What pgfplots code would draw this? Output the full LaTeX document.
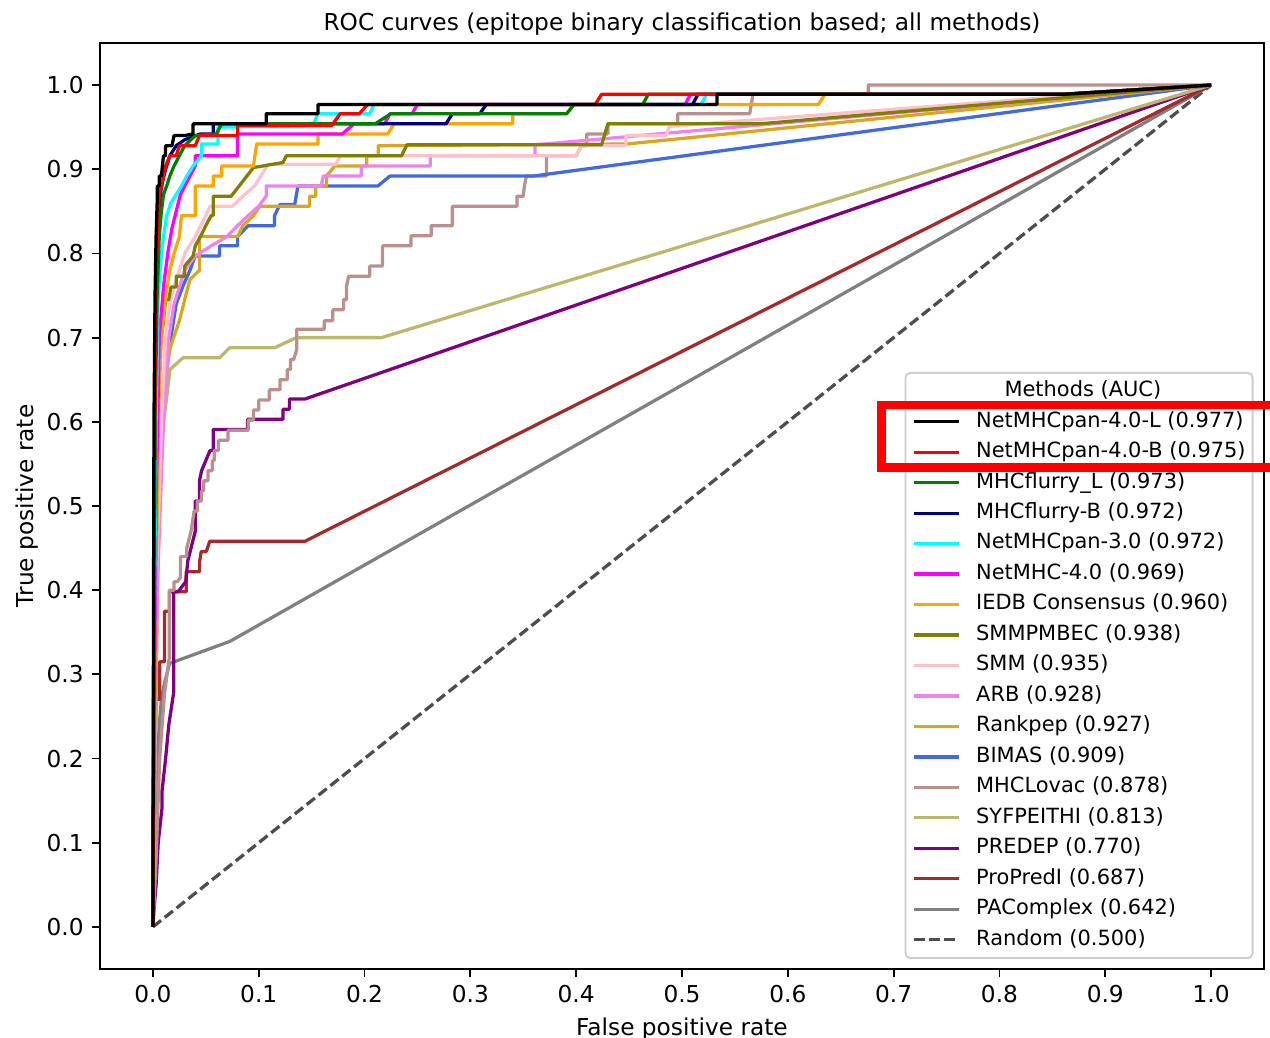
\documentclass[border=0pt]{standalone}
\usepackage{pgfplots}
\pgfplotsset{compat=1.18}
\usepackage{fontspec}
\setmainfont{DejaVu Sans}
\definecolor{cgreen}{HTML}{008000}
\definecolor{cnavy}{HTML}{000080}
\definecolor{ccyan}{HTML}{00FFFF}
\definecolor{cmagenta}{HTML}{FF00FF}
\definecolor{corange}{HTML}{FFA500}
\definecolor{colive}{HTML}{808000}
\definecolor{cpink}{HTML}{FFC0CB}
\definecolor{cviolet}{HTML}{EE82EE}
\definecolor{cgoldenrod}{HTML}{DAA520}
\definecolor{croyal}{HTML}{4169E1}
\definecolor{crosy}{HTML}{BC8F8F}
\definecolor{ckhaki}{HTML}{BDB76B}
\definecolor{cpurple}{HTML}{800080}
\definecolor{cbrown}{HTML}{A52A2A}
\definecolor{cgray}{HTML}{808080}
\definecolor{cdash}{HTML}{4D4D4D}
\begin{document}
\begin{tikzpicture}
\begin{axis}[
  scale only axis, width=500.52pt, height=398.18pt,
  xmin=-0.05, xmax=1.05, ymin=-0.05, ymax=1.05,
  xtick={0,0.1,0.2,0.3,0.4,0.5,0.6,0.7,0.8,0.9,1.0},
  ytick={0,0.1,0.2,0.3,0.4,0.5,0.6,0.7,0.8,0.9,1.0},
  xticklabel={\pgfmathprintnumber[fixed,fixed zerofill,precision=1,assume math mode=true]{\tick}},
  yticklabel={\pgfmathprintnumber[fixed,fixed zerofill,precision=1,assume math mode=true]{\tick}},
  tick pos=left, tick align=outside, major tick length=3.5pt,
  tick style={black, line width=0.8pt},
  axis line style={line width=0.8pt, black},
  every tick label/.append style={font=\fontsize{10}{12}\selectfont},
  title={ROC curves (epitope binary classification based; all methods)},
  every axis title/.style={font=\fontsize{10}{12}\selectfont, at={(axis description cs:0.5,1.0130)}, anchor=base},
  xlabel={False positive rate},
  xlabel style={font=\fontsize{10}{12}\selectfont, at={(axis description cs:0.5,-0.0713)}, anchor=base},
  ylabel={True positive rate},
  ylabel style={font=\fontsize{10}{12}\selectfont, at={(axis description cs:-0.057,0.5)}, anchor=base, rotate=0},
  legend style={at={(axis description cs:0.9910,0.6447)}, anchor=north east,
    draw=black!20, fill=white, rounded corners=2pt, line width=0.8pt,
    font=\fontsize{9}{11}\selectfont, inner xsep=3.0pt, inner ysep=3.4pt,
    row sep=4.1pt, column sep=6.6pt,
    nodes={inner sep=0pt, text height=6.8pt, text depth=2.2pt}},
  legend cell align=left,
  reverse legend,
  legend image code/.code={\draw[#1] (0pt,0pt) -- (19.4pt,0pt);},
  every axis plot/.append style={line width=1.4pt, line join=round},
]
% Random
\addplot[cdash, dash pattern=on 4.5pt off 2pt] coordinates {(0,0) (1,1)};
\addlegendentry{Random (0.500)}
% PAComplex
\addplot[cgray] coordinates {(0,0) (0.002,0.1) (0.004,0.19) (0.006,0.24) (0.008,0.27) (0.011,0.29) (0.0158,0.313) (0.0725,0.339) (1,1)};
\addlegendentry{PAComplex (0.642)}
% ProPredI
\addplot[cbrown] coordinates {(0,0) (0.001,0.1) (0.002,0.2) (0.003,0.27) (0.0064,0.27) (0.0064,0.315) (0.011,0.315) (0.011,0.375) (0.0157,0.375) (0.0157,0.398) (0.0315,0.398) (0.0315,0.422) (0.044,0.422) (0.0441,0.434) (0.0457,0.446) (0.0505,0.446) (0.0537,0.458) (0.1435,0.458) (1,1)};
\addlegendentry{ProPredI (0.687)}
% PREDEP
\addplot[cpurple] coordinates {(0,0) (0.001,0.02) (0.003,0.05) (0.005,0.1) (0.0085,0.14) (0.0085,0.16) (0.012,0.2) (0.015,0.24) (0.0198,0.28) (0.0198,0.398) (0.0237,0.398) (0.031,0.41) (0.033,0.435) (0.036,0.45) (0.04,0.47) (0.04,0.506) (0.044,0.506) (0.044,0.53) (0.046,0.542) (0.05,0.554) (0.054,0.566) (0.057,0.566) (0.057,0.591) (0.0895,0.591) (0.0895,0.603) (0.123,0.603) (0.123,0.615) (0.129,0.615) (0.129,0.627) (0.1435,0.627) (1,1)};
\addlegendentry{PREDEP (0.770)}
% SYFPEITHI
\addplot[ckhaki] coordinates {(0,0) (0.002,0.2) (0.004,0.4) (0.007,0.53) (0.01,0.6) (0.0127,0.626) (0.0161,0.662) (0.0284,0.676) (0.063,0.676) (0.0725,0.688) (0.115,0.688) (0.1356,0.700) (0.216,0.700) (1,1)};
\addlegendentry{SYFPEITHI (0.813)}
% MHCLovac
\addplot[crosy] coordinates {(0,0) (0.003,0.08) (0.0064,0.2) (0.011,0.278) (0.0155,0.32) (0.0155,0.40) (0.02,0.40) (0.02,0.41) (0.023,0.41) (0.026,0.415) (0.026,0.44) (0.032,0.44) (0.032,0.45) (0.036,0.47) (0.039,0.494) (0.042,0.494) (0.042,0.506) (0.046,0.506) (0.046,0.518) (0.048,0.518) (0.048,0.53) (0.052,0.53) (0.052,0.542) (0.056,0.542) (0.056,0.554) (0.058,0.554) (0.058,0.566) (0.062,0.566) (0.062,0.578) (0.071,0.578) (0.071,0.59) (0.09,0.59) (0.09,0.602) (0.095,0.602) (0.095,0.614) (0.1,0.614) (0.1,0.626) (0.11,0.626) (0.11,0.638) (0.12,0.638) (0.12,0.65) (0.127,0.65) (0.127,0.662) (0.13,0.662) (0.13,0.674) (0.133,0.674) (0.136,0.686) (0.136,0.71) (0.162,0.71) (0.162,0.72) (0.17,0.72) (0.17,0.733) (0.18,0.733) (0.18,0.745) (0.183,0.745) (0.183,0.761) (0.185,0.773) (0.205,0.773) (0.205,0.785) (0.217,0.785) (0.217,0.809) (0.244,0.809) (0.244,0.821) (0.263,0.821) (0.263,0.833) (0.283,0.833) (0.283,0.856) (0.344,0.856) (0.344,0.868) (0.35,0.868) (0.351,0.88) (0.353,0.892) (0.372,0.892) (0.372,0.916) (0.40,0.916) (0.405,0.928) (0.41,0.928) (0.41,0.942) (0.43,0.942) (0.43,0.954) (0.496,0.954) (0.496,0.966) (0.564,0.966) (0.567,0.989) (0.676,0.989) (0.676,1.0) (1,1)};
\addlegendentry{MHCLovac (0.878)}
% BIMAS
\addplot[croyal] coordinates {(0,0) (0.001,0.3) (0.003,0.45) (0.006,0.55) (0.009,0.62) (0.012,0.67) (0.017,0.7) (0.022,0.74) (0.028,0.76) (0.035,0.78) (0.04,0.797) (0.063,0.797) (0.063,0.809) (0.08,0.809) (0.08,0.82) (0.09,0.833) (0.115,0.833) (0.115,0.845) (0.12,0.858) (0.134,0.858) (0.137,0.88) (0.2125,0.88) (0.224,0.892) (0.36,0.892) (1,1)};
\addlegendentry{BIMAS (0.909)}
% Rankpep
\addplot[cgoldenrod] coordinates {(0,0) (0.002,0.2) (0.005,0.45) (0.008,0.603) (0.012,0.65) (0.016,0.686) (0.019,0.698) (0.025,0.72) (0.03,0.745) (0.035,0.769) (0.044,0.78) (0.044,0.82) (0.08,0.82) (0.085,0.833) (0.095,0.845) (0.101,0.856) (0.148,0.856) (0.148,0.868) (0.154,0.868) (0.154,0.88) (0.164,0.88) (0.164,0.892) (0.172,0.904) (0.202,0.904) (0.202,0.916) (0.213,0.916) (0.213,0.928) (0.448,0.93) (1,1)};
\addlegendentry{Rankpep (0.927)}
% ARB
\addplot[cviolet] coordinates {(0,0) (0.004,0.4) (0.01,0.6) (0.015,0.7) (0.02,0.74) (0.025,0.76) (0.03,0.78) (0.04,0.797) (0.055,0.809) (0.07,0.82) (0.08,0.833) (0.09,0.845) (0.1,0.856) (0.107,0.868) (0.107,0.88) (0.159,0.88) (0.161,0.892) (0.197,0.892) (0.197,0.904) (0.262,0.904) (0.262,0.916) (0.361,0.916) (0.361,0.929) (1,1)};
\addlegendentry{ARB (0.928)}
% SMM
\addplot[cpink] coordinates {(0,0) (0.003,0.4) (0.008,0.6) (0.012,0.7) (0.016,0.74) (0.02,0.76) (0.025,0.78) (0.03,0.8) (0.04,0.82) (0.05,0.845) (0.054,0.856) (0.075,0.856) (0.085,0.868) (0.096,0.88) (0.109,0.906) (0.173,0.906) (0.177,0.916) (0.40,0.916) (0.405,0.928) (0.447,0.928) (0.447,0.94) (0.485,0.94) (0.488,0.951) (1,1)};
\addlegendentry{SMM (0.935)}
% SMMPMBEC
\addplot[colive] coordinates {(0,0) (0.002,0.3) (0.004,0.55) (0.006,0.68) (0.01,0.72) (0.012,0.745) (0.015,0.745) (0.017,0.76) (0.022,0.76) (0.022,0.773) (0.03,0.773) (0.03,0.785) (0.038,0.797) (0.04,0.809) (0.045,0.82) (0.05,0.833) (0.055,0.845) (0.057,0.845) (0.057,0.868) (0.074,0.868) (0.095,0.902) (0.123,0.908) (0.126,0.916) (0.235,0.916) (0.24,0.929) (0.424,0.929) (0.43,0.954) (0.574,0.954) (1,1)};
\addlegendentry{SMMPMBEC (0.938)}
% IEDB Consensus
\addplot[corange] coordinates {(0,0) (0.002,0.3) (0.005,0.6) (0.008,0.7) (0.012,0.75) (0.016,0.78) (0.02,0.8) (0.025,0.82) (0.027,0.845) (0.04,0.845) (0.04,0.88) (0.057,0.88) (0.057,0.892) (0.065,0.892) (0.065,0.904) (0.095,0.904) (0.098,0.93) (0.156,0.93) (0.156,0.942) (0.222,0.942) (0.228,0.954) (0.34,0.954) (0.34,0.966) (0.391,0.966) (0.398,0.977) (0.629,0.977) (0.635,0.989) (0.86,0.989) (1,1)};
\addlegendentry{IEDB Consensus (0.960)}
% NetMHC-4.0
\addplot[cmagenta] coordinates {(0,0) (0.001,0.2) (0.003,0.5) (0.006,0.7) (0.01,0.76) (0.014,0.8) (0.018,0.83) (0.022,0.85) (0.026,0.87) (0.03,0.88) (0.035,0.892) (0.04,0.904) (0.04,0.916) (0.08,0.916) (0.08,0.942) (0.179,0.942) (0.19,0.954) (0.219,0.954) (0.224,0.966) (0.245,0.966) (0.25,0.977) (0.503,0.977) (0.508,0.989) (0.86,0.989) (1,1)};
\addlegendentry{NetMHC-4.0 (0.969)}
% NetMHCpan-3.0
\addplot[ccyan] coordinates {(0,0) (0.001,0.3) (0.003,0.6) (0.005,0.75) (0.008,0.8) (0.01,0.82) (0.013,0.845) (0.017,0.86) (0.022,0.87) (0.027,0.88) (0.032,0.892) (0.038,0.904) (0.046,0.916) (0.046,0.93) (0.0615,0.93) (0.0615,0.95) (0.151,0.952) (0.156,0.966) (0.205,0.966) (0.209,0.977) (0.518,0.977) (0.523,0.989) (0.86,0.989) (1,1)};
\addlegendentry{NetMHCpan-3.0 (0.972)}
% MHCflurry-B
\addplot[cnavy] coordinates {(0,0) (0.001,0.4) (0.002,0.65) (0.003,0.78) (0.005,0.84) (0.007,0.87) (0.009,0.885) (0.012,0.9) (0.016,0.916) (0.022,0.928) (0.03,0.935) (0.045,0.942) (0.057,0.942) (0.057,0.954) (0.277,0.954) (0.283,0.966) (0.309,0.966) (0.315,0.977) (0.510,0.977) (0.515,0.989) (0.86,0.989) (1,1)};
\addlegendentry{MHCflurry-B (0.972)}
% MHCflurry_L
\addplot[cgreen] coordinates {(0,0) (0.001,0.3) (0.002,0.6) (0.004,0.75) (0.006,0.82) (0.008,0.85) (0.01,0.87) (0.013,0.88) (0.016,0.892) (0.02,0.904) (0.025,0.916) (0.03,0.928) (0.04,0.94) (0.06,0.942) (0.065,0.954) (0.21,0.954) (0.225,0.966) (0.391,0.966) (0.398,0.977) (0.463,0.977) (0.468,0.989) (0.86,0.989) (1,1)};
\addlegendentry{MHCflurry\_L (0.973)}
% NetMHCpan-4.0-B
\addplot[red] coordinates {(0,0) (0.001,0.4) (0.002,0.65) (0.003,0.78) (0.005,0.84) (0.006,0.87) (0.008,0.88) (0.01,0.892) (0.012,0.904) (0.016,0.916) (0.022,0.916) (0.025,0.928) (0.04,0.928) (0.044,0.94) (0.08,0.94) (0.08,0.952) (0.169,0.952) (0.177,0.966) (0.195,0.966) (0.203,0.977) (0.418,0.977) (0.424,0.989) (0.86,0.989) (1,1)};
\addlegendentry{NetMHCpan-4.0-B (0.975)}
% NetMHCpan-4.0-L
\addplot[black] coordinates {(0,0) (0.0005,0.35) (0.001,0.6) (0.002,0.75) (0.003,0.82) (0.004,0.86) (0.004,0.88) (0.006,0.88) (0.006,0.892) (0.008,0.892) (0.009,0.904) (0.01,0.916) (0.012,0.916) (0.012,0.928) (0.018,0.928) (0.02,0.94) (0.03,0.94) (0.038,0.942) (0.038,0.954) (0.107,0.954) (0.107,0.966) (0.156,0.966) (0.156,0.977) (0.533,0.977) (0.533,0.989) (0.86,0.989) (1,1)};
\addlegendentry{NetMHCpan-4.0-L (0.977)}
\addlegendimage{empty legend}
\addlegendentry{\hspace{12.2pt}Methods (AUC)}
\end{axis}
\draw[red, line width=3.65pt] (600pt,242.5pt) -- (336.1pt,242.5pt) -- (336.1pt,215.6pt) -- (600pt,215.6pt);
\pgfresetboundingbox
\useasboundingbox (-43pt,-29.67pt) rectangle (503.1pt,416.67pt);
\end{tikzpicture}
\end{document}
